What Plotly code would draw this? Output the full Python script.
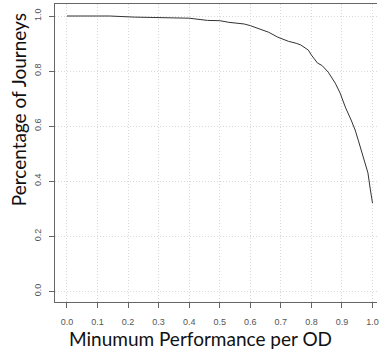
import plotly.graph_objects as go

perf = [0.0, 0.14, 0.22, 0.40, 0.46, 0.50, 0.53, 0.58, 0.60, 0.66, 0.69, 0.725, 0.75, 0.765,
        0.79, 0.80, 0.82, 0.835, 0.855, 0.878, 0.894, 0.911, 0.930, 0.943, 0.953, 0.963,
        0.985, 0.993, 1.0]
share = [1.000, 1.000, 0.996, 0.992, 0.984, 0.983, 0.977, 0.971, 0.965, 0.941, 0.923, 0.908,
         0.901, 0.895, 0.876, 0.858, 0.829, 0.820, 0.796, 0.756, 0.720, 0.669, 0.622, 0.586,
         0.550, 0.513, 0.430, 0.368, 0.32]

x_ticks = [0.0, 0.1, 0.2, 0.3, 0.4, 0.5, 0.6, 0.7, 0.8, 0.9, 1.0]
x_tick_labels = ["0.0", "0.1", "0.2", "0.3", "0.4", "0.5", "0.6", "0.7", "0.8", "0.9", "1.0"]
y_ticks = [0.0, 0.2, 0.4, 0.6, 0.8, 1.0]
y_tick_labels = ["0.0", "0.2", "0.4", "0.6", "0.8", "1.0"]

x_title = "Minumum Performance per OD"
y_title = "Percentage of Journeys"

fig = go.Figure()
fig.add_trace(go.Scatter(x=perf, y=share, mode="lines",
                         line=dict(color="#333333", width=1), showlegend=False))

tick_font = dict(family="Liberation Sans, Arial, sans-serif", size=9, color="#555555")
title_font = dict(family="Lato, sans-serif", size=19, color="#111111")

fig.update_layout(
    width=379, height=351,
    margin=dict(l=55, r=0, t=4, b=49),
    paper_bgcolor="white", plot_bgcolor="white",
    xaxis=dict(range=[-0.039, 1.0146], tickvals=x_ticks, ticktext=x_tick_labels,
               showgrid=True, gridcolor="#d9d9d9", griddash="1px,2px", gridwidth=1,
               zeroline=False, showline=True, linecolor="#666666", linewidth=1,
               mirror=True, ticks="outside", ticklen=5, tickcolor="#666666",
               tickfont=tick_font, ticklabelstandoff=6, ticklabeloverflow="allow"),
    yaxis=dict(range=[-0.0389, 1.0436], tickvals=y_ticks, ticktext=y_tick_labels,
               showgrid=True, gridcolor="#d9d9d9", griddash="1px,2px", gridwidth=1,
               zeroline=False, showline=True, linecolor="#666666", linewidth=1,
               ticks="outside", ticklen=5, tickcolor="#666666", tickangle=-90,
               tickfont=tick_font, ticklabelstandoff=4),
    annotations=[
        dict(text=x_title, xref="paper", yref="paper", x=(201 - 55) / 324, y=-(338 - 302) / 298,
             xanchor="center", yanchor="middle", showarrow=False, font=title_font),
        dict(text=y_title, xref="paper", yref="paper", x=-(55 - 18) / 324, y=(302 - 110) / 298,
             xanchor="center", yanchor="middle", showarrow=False, textangle=-90, font=title_font),
    ],
)

fig.write_html("out.html", config={"displayModeBar": False},
               post_script="document.body.style.margin='0';")
